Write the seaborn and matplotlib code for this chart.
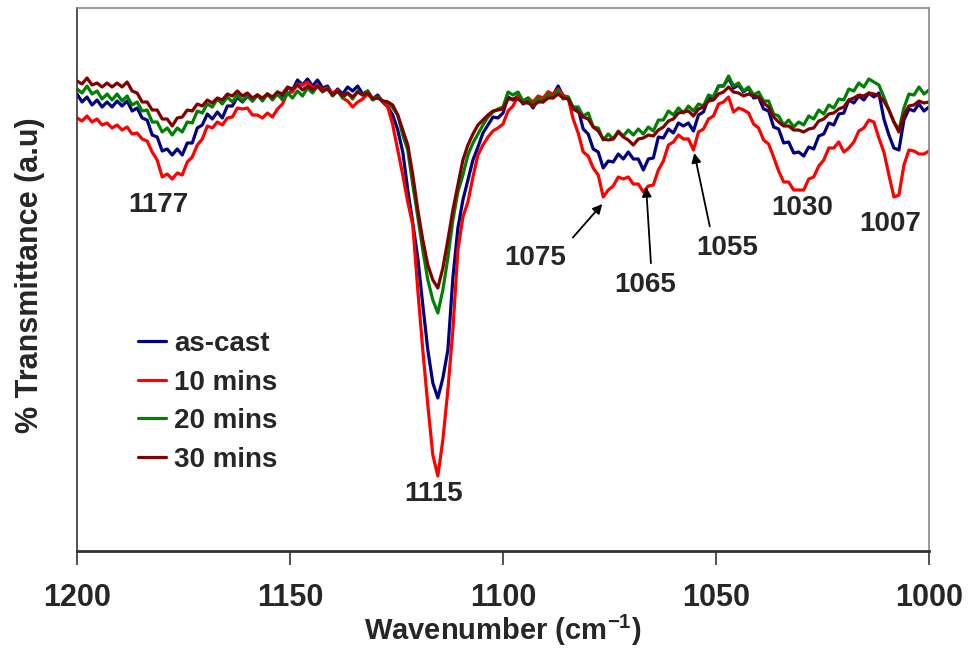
import numpy as np
import pandas as pd
import seaborn as sns
import matplotlib.pyplot as plt

# FTIR spectra, 1200-1000 cm-1 (arbitrary transmittance units)
wavenumber = np.linspace(1200, 1000, 171)

as_cast = [
    457, 449, 454, 446, 451, 444, 449, 444, 450, 445,
    450, 440, 443, 433, 431, 416, 414, 400, 402, 396,
    402, 396, 408, 408, 423, 426, 437, 432, 439, 433,
    445, 445, 454, 449, 455, 450, 456, 451, 457, 452,
    459, 453, 463, 461, 471, 466, 472, 465, 471, 463,
    465, 456, 462, 457, 464, 460, 465, 457, 460, 452,
    456, 449, 444, 436, 421, 399, 361, 328, 293, 246,
    201, 168, 153, 173, 201, 273, 323, 351, 371, 391,
    404, 418, 426, 434, 433, 438, 454, 451, 455, 447,
    451, 443, 452, 450, 459, 456, 465, 455, 454, 442,
    442, 422, 417, 402, 399, 383, 390, 389, 397, 392,
    399, 392, 392, 381, 392, 393, 414, 413, 422, 418,
    428, 425, 428, 420, 436, 439, 453, 454, 465, 465,
    473, 463, 466, 459, 463, 453, 454, 442, 440, 424,
    422, 408, 409, 398, 399, 395, 404, 402, 415, 417,
    428, 426, 437, 438, 451, 448, 455, 451, 458, 454,
    458, 432, 416, 403, 401, 431, 442, 440, 447, 440,
    444,
]
mins_10 = [
    433, 430, 435, 429, 432, 426, 428, 423, 426, 421,
    424, 417, 418, 412, 410, 399, 391, 374, 377, 372,
    378, 376, 389, 394, 406, 412, 425, 423, 429, 426,
    433, 434, 443, 442, 443, 436, 436, 433, 438, 434,
    442, 447, 458, 459, 467, 466, 469, 463, 466, 461,
    463, 458, 461, 453, 450, 444, 449, 452, 457, 452,
    454, 450, 444, 426, 401, 376, 349, 326, 261, 201,
    146, 96, 75, 111, 161, 221, 301, 334, 349, 374,
    396, 406, 414, 420, 423, 427, 440, 445, 455, 450,
    453, 449, 455, 453, 459, 457, 462, 456, 453, 432,
    418, 399, 395, 383, 376, 354, 361, 365, 374, 372,
    374, 367, 367, 359, 365, 366, 381, 390, 406, 409,
    416, 412, 412, 401, 419, 422, 432, 435, 447, 449,
    454, 439, 443, 441, 438, 427, 423, 411, 407, 394,
    380, 369, 369, 361, 361, 361, 372, 374, 385, 391,
    403, 403, 409, 399, 403, 409, 420, 423, 431, 429,
    413, 399, 376, 354, 356, 386, 401, 400, 397, 397,
    400,
]
mins_20 = [
    462, 458, 465, 457, 460, 452, 457, 451, 457, 450,
    455, 446, 449, 440, 441, 429, 429, 419, 423, 416,
    423, 419, 429, 428, 440, 438, 447, 444, 452, 447,
    454, 449, 456, 450, 456, 450, 456, 450, 457, 451,
    457, 451, 458, 453, 460, 455, 463, 458, 465, 459,
    463, 455, 460, 453, 458, 452, 460, 456, 460, 451,
    454, 450, 449, 443, 436, 416, 401, 366, 334, 301,
    271, 251, 238, 261, 293, 331, 359, 376, 396, 408,
    417, 426, 434, 439, 442, 444, 459, 456, 459, 450,
    453, 445, 453, 449, 457, 453, 461, 452, 454, 444,
    444, 435, 438, 424, 423, 411, 417, 412, 420, 415,
    421, 416, 422, 417, 424, 420, 431, 431, 440, 436,
    443, 438, 445, 440, 447, 445, 456, 454, 465, 465,
    475, 465, 468, 460, 464, 456, 459, 450, 450, 437,
    435, 426, 431, 424, 429, 426, 435, 432, 441, 437,
    446, 443, 452, 451, 462, 460, 468, 464, 472, 469,
    466, 454, 441, 429, 421, 443, 457, 456, 464, 457,
    461,
]
mins_30 = [
    470, 467, 473, 466, 468, 464, 468, 464, 468, 464,
    469, 460, 458, 449, 449, 441, 441, 432, 432, 425,
    433, 434, 441, 440, 447, 445, 451, 448, 453, 451,
    457, 455, 460, 455, 458, 453, 456, 453, 457, 454,
    459, 457, 464, 462, 466, 461, 465, 461, 465, 460,
    462, 456, 460, 455, 458, 454, 459, 456, 458, 452,
    453, 450, 449, 446, 436, 421, 406, 376, 341, 311,
    286, 271, 263, 283, 311, 341, 366, 391, 406, 417,
    426, 431, 436, 440, 441, 442, 452, 452, 452, 448,
    448, 445, 449, 449, 453, 453, 457, 453, 452, 442,
    439, 434, 432, 424, 420, 412, 411, 412, 419, 414,
    411, 406, 412, 413, 416, 415, 421, 424, 430, 432,
    438, 439, 440, 435, 442, 444, 450, 451, 457, 459,
    464, 459, 458, 455, 457, 455, 454, 448, 444, 434,
    429, 425, 425, 421, 421, 419, 422, 423, 430, 432,
    437, 438, 442, 444, 451, 453, 456, 455, 458, 457,
    455, 450, 441, 429, 419, 436, 445, 446, 450, 448,
    449,
]

labels = ['as-cast', '10 mins', '20 mins', '30 mins']
colors = ['#000080', '#ff0000', '#008000', '#800000']
xticks = [1200, 1150, 1100, 1050, 1000]

df = pd.DataFrame({
    'wavenumber': np.tile(wavenumber, 4),
    'T': np.concatenate([as_cast, mins_10, mins_20, mins_30]),
    'sample': np.repeat(labels, len(wavenumber)),
})

sns.set_style('white')
plt.rcParams['font.family'] = ['Liberation Sans', 'DejaVu Sans']
plt.rcParams['font.weight'] = 'bold'
plt.rcParams['mathtext.fontset'] = 'custom'
plt.rcParams['mathtext.rm'] = 'Liberation Sans:bold'
plt.rcParams['mathtext.bf'] = 'Liberation Sans:bold'
plt.rcParams['mathtext.default'] = 'rm'

fig = plt.figure(figsize=(9.68, 6.54), dpi=100)
ax = fig.add_axes([77 / 968, 1 - 551 / 654, 852 / 968, 543 / 654])

sns.lineplot(data=df, x='wavenumber', y='T', hue='sample', hue_order=labels,
             palette=colors, linewidth=2.3, estimator=None, sort=False, ax=ax)
for line in ax.get_lines():
    line.set_solid_joinstyle('round')

ax.set_xlim(1200, 1000)
ax.set_ylim(0, 543)
ax.set_yticks([])
ax.set_xticks(xticks)
ax.tick_params(axis='x', bottom=True, direction='out', length=10, width=1.2,
               color='#333333', labelsize=22, pad=13)

ax.set_xlabel('Wavenumber (cm$^{-1}$)', fontsize=21, fontweight='bold')
ax.set_ylabel('% Transmittance (a.u)', fontsize=22, fontweight='bold')
ax.xaxis.set_label_coords(0.5, -0.114)
ax.yaxis.set_label_coords(-0.037, 0.508)

for side in ['left', 'bottom']:
    ax.spines[side].set_color('#333333')
ax.spines['left'].set_linewidth(1.2)
ax.spines['bottom'].set_linewidth(2)
for side in ['top', 'right']:
    ax.spines[side].set_color('#888888')
    ax.spines[side].set_linewidth(1.2)

# peak labels without arrows
for txt, x, y in [('1177', 1180.9, 346), ('1115', 1116.3, 57),
                  ('1030', 1029.8, 343), ('1007', 1009.1, 327)]:
    ax.text(x, y, txt, ha='center', va='center', fontsize=20, fontweight='bold')

# peak labels with arrows
arrow = dict(arrowstyle='-|>', color='black', lw=1.3, mutation_scale=14, shrinkA=4, shrinkB=0)
for txt, xt, yt, xp, yp, rel in [('1075', 1092.4, 293, 1076.7, 347, (1.0, 1.0)),
                                 ('1065', 1066.6, 266, 1066.4, 364, (0.6, 1.0)),
                                 ('1055', 1047.4, 303, 1055.1, 398, (0.25, 1.0))]:
    ax.annotate(txt, xy=(xp, yp), xytext=(xt, yt), ha='center', va='center',
                fontsize=20, fontweight='bold',
                arrowprops=dict(arrow, relpos=rel))

ax.legend(loc='upper left', bbox_to_anchor=(0.0716, 0.405), frameon=False,
          fontsize=20, handlelength=1.0, handletextpad=0.3, labelspacing=0.45,
          borderaxespad=0, borderpad=0)

fig.savefig('out.png', dpi=100)
